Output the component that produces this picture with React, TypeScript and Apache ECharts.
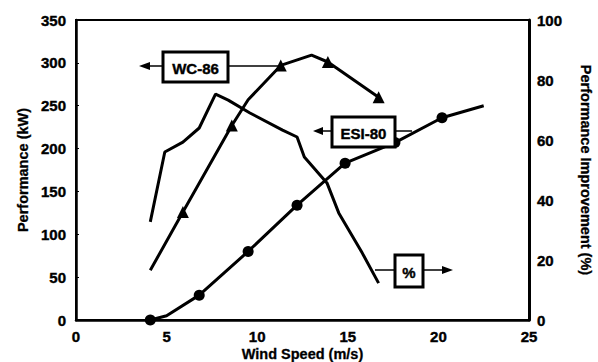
import React, { useEffect, useRef } from "react";
import * as echarts from "echarts";

// Wind speed (m/s) and performance (kW) for ESI-80 (circle markers)
const esiWind = [4.1, 5.0, 6.8, 9.5, 12.2, 14.85, 17.6, 20.2, 22.5];
const esiPower = [0, 5, 29, 80, 134, 183, 207, 236, 250];
const esiMarker = [true, false, true, true, true, true, true, true, false];

// WC-86 (triangle markers)
const wcWind = [4.1, 5.9, 8.6, 9.5, 11.3, 13.0, 13.9, 16.7];
const wcPower = [58, 126, 227, 257, 297, 309, 301, 260];
const wcMarker = [false, true, true, false, true, false, true, true];

// Performance improvement (%)
const pctWind = [4.1, 4.9, 5.9, 6.8, 7.7, 8.4, 9.6, 11.4, 12.2, 12.6, 13.85, 14.5, 15.8, 16.7];
const pctValue = [32.7, 56, 59.3, 64, 75.3, 73.3, 69, 63.3, 61, 54.3, 45.7, 35.7, 22.3, 12.3];

const xTicks = { min: 0, max: 25, interval: 5 };
const leftTicks = { min: 0, max: 350, interval: 50 };
const rightTicks = { min: 0, max: 100, interval: 20 };

const FONT = "'Liberation Sans', Arial, sans-serif";

function box(x: number, y: number, w: number, h: number, label: string) {
  return {
    type: "group",
    z: 100,
    children: [
      {
        type: "rect",
        shape: { x, y, width: w, height: h },
        style: { fill: "#fff", stroke: "#000", lineWidth: 3 },
        z: 100,
      },
      {
        type: "text",
        x: x + w / 2,
        y: y + h / 2 + 1,
        style: {
          text: label,
          fill: "#000",
          font: `bold 15px ${FONT}`,
          align: "center",
          verticalAlign: "middle",
          stroke: "#000",
          lineWidth: 0.4,
        },
        z: 101,
      },
    ],
  };
}

function seg(x1: number, y1: number, x2: number, y2: number) {
  return {
    type: "line",
    z: 99,
    shape: { x1, y1, x2, y2 },
    style: { stroke: "#000", lineWidth: 1.5 },
  };
}

function head(points: number[][]) {
  return {
    type: "polygon",
    z: 99,
    shape: { points },
    style: { fill: "#000" },
  };
}

export default function App() {
  const ref = useRef<HTMLDivElement>(null);

  useEffect(() => {
    document.body.style.margin = "0";
    const chart = echarts.init(ref.current!, null, { renderer: "svg" });
    const axisLabel = {
      color: "#000",
      fontWeight: "bold",
      fontSize: 15,
      fontFamily: FONT,
      textBorderColor: "#000",
      textBorderWidth: 0.4,
    };
    const nameStyle = {
      color: "#000",
      fontWeight: "bold",
      fontSize: 14.5,
      fontFamily: FONT,
      textBorderColor: "#000",
      textBorderWidth: 0.3,
    };
    chart.setOption({
      animation: false,
      backgroundColor: "#fff",
      grid: {
        left: 76,
        right: 69,
        top: 20,
        bottom: 42,
        containLabel: false,
        outerBoundsMode: "none",
        show: true,
        borderColor: "#000",
        borderWidth: 2,
      },
      xAxis: {
        type: "value",
        ...xTicks,
        axisLine: { show: true, lineStyle: { color: "#000", width: 2.5 } },
        axisTick: { show: false },
        splitLine: { show: false },
        axisLabel: { ...axisLabel, margin: 9 },
        name: "Wind Speed (m/s)",
        nameLocation: "middle",
        nameGap: 26,
        nameMoveOverlap: false,
        nameTextStyle: nameStyle,
      },
      yAxis: [
        {
          type: "value",
          ...leftTicks,
          position: "left",
          axisLine: { show: true, lineStyle: { color: "#000", width: 2.5 } },
          axisTick: { show: true, inside: true, length: 3, lineStyle: { color: "#000" } },
          splitLine: { show: false },
          axisLabel: { ...axisLabel, margin: 10 },
          name: "Performance (kW)",
          nameLocation: "middle",
          nameRotate: 90,
          nameGap: 46,
          nameMoveOverlap: false,
          nameTextStyle: nameStyle,
        },
        {
          type: "value",
          ...rightTicks,
          position: "right",
          axisLine: { show: true, lineStyle: { color: "#000", width: 3 } },
          axisTick: { show: false },
          splitLine: { show: false },
          axisLabel: { ...axisLabel, margin: 8 },
          name: "Performance Improvement (%)",
          nameLocation: "middle",
          nameRotate: -90,
          nameGap: 49,
          nameMoveOverlap: false,
          nameTextStyle: nameStyle,
        },
      ],
      series: [
        {
          name: "ESI-80",
          type: "line",
          yAxisIndex: 0,
          data: esiWind.map((x, i) => ({
            value: [x, esiPower[i]],
            symbol: esiMarker[i] ? "circle" : "none",
          })),
          symbolSize: 11,
          lineStyle: { color: "#000", width: 3 },
          itemStyle: { color: "#000" },
        },
        {
          name: "WC-86",
          type: "line",
          yAxisIndex: 0,
          data: wcWind.map((x, i) => ({
            value: [x, wcPower[i]],
            symbol: wcMarker[i] ? "triangle" : "none",
          })),
          symbolSize: 12,
          lineStyle: { color: "#000", width: 3 },
          itemStyle: { color: "#000" },
        },
        {
          name: "%",
          type: "line",
          yAxisIndex: 1,
          data: pctWind.map((x, i) => [x, pctValue[i]]),
          showSymbol: false,
          symbol: "none",
          lineStyle: { color: "#000", width: 3 },
        },
      ],
      graphic: [
        // WC-86 label
        seg(148, 66, 163, 66),
        head([[139, 66], [150, 62], [150, 70]]),
        seg(228, 66, 282, 66),
        box(163, 52, 65, 30, "WC-86"),
        // ESI-80 label
        seg(322, 131, 332, 131),
        head([[313, 131], [323, 127], [323, 135]]),
        seg(395, 131, 412, 131),
        box(332, 117, 63, 30, "ESI-80"),
        // % label
        seg(375, 270, 395, 270),
        seg(423, 270, 443, 270),
        head([[453, 270], [442, 266], [442, 274]]),
        box(395, 255, 28, 32, "%"),
      ],
    });
    return () => chart.dispose();
  }, []);

  return <div ref={ref} style={{ width: 598, height: 362 }} />;
}
